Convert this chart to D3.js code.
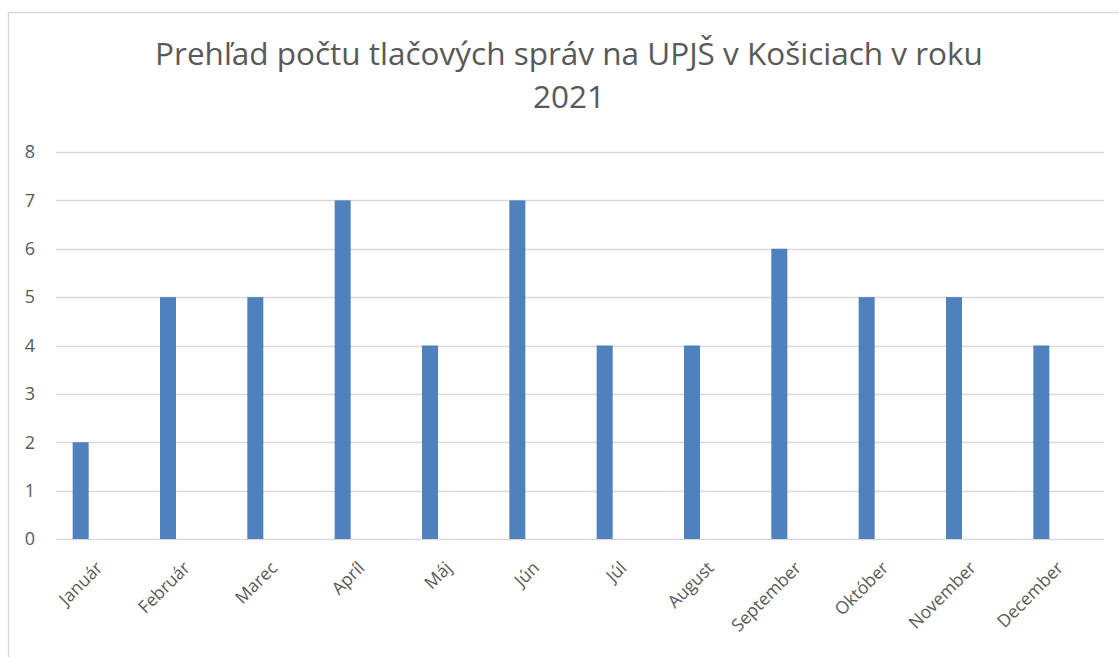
<!DOCTYPE html>
<html>
<head>
<meta charset="utf-8">
<script src="https://cdn.jsdelivr.net/npm/d3@7"></script>
<style>
  body { margin: 0; background: #fff; }
  svg text { font-family: "Open Sans", "Noto Sans", sans-serif; fill: #595959; }
</style>
</head>
<body>
<div id="chart"></div>
<script>
// data
const months = ["Január", "Február", "Marec", "Apríl", "Máj", "Jún", "Júl", "August", "September", "Október", "November", "December"];
const counts = [2, 5, 5, 7, 4, 7, 4, 4, 6, 5, 5, 4];
const yTicks = [0, 1, 2, 3, 4, 5, 6, 7, 8];
const titleLines = ["Prehľad počtu tlačových správ na UPJŠ v Košiciach v roku", "2021"];

const width = 1119, height = 657;
const margin = {top: 152, right: 15, bottom: 118, left: 56};
const barWidth = 16;
const barShift = -27;   // bar sits left of the category centre

const svg = d3.select("#chart").append("svg")
    .attr("width", width)
    .attr("height", height);

// chart border (only top and left visible in the crop)
svg.append("path")
    .attr("d", `M8.5,${height} V12.5 H${width}`)
    .attr("fill", "none")
    .attr("stroke", "#d9d9d9")
    .attr("stroke-width", 1.5);

// title
svg.append("text")
    .attr("x", 569)
    .attr("y", 65)
    .attr("text-anchor", "middle")
    .attr("font-size", "31.5px")
    .selectAll("tspan")
    .data(titleLines)
    .enter()
    .append("tspan")
    .attr("x", 569)
    .attr("dy", (d, i) => i === 0 ? 0 : 43)
    .text(d => d);

const x = d3.scaleBand()
    .domain(months)
    .range([margin.left, width - margin.right])
    .padding(0);

const y = d3.scaleLinear()
    .domain([0, 8])
    .range([height - margin.bottom, margin.top]);

// gridlines
svg.append("g")
    .selectAll("line")
    .data(yTicks)
    .enter()
    .append("line")
    .attr("x1", margin.left)
    .attr("x2", width - margin.right)
    .attr("y1", d => Math.round(y(d)) + 0.5)
    .attr("y2", d => Math.round(y(d)) + 0.5)
    .attr("stroke", "#d9d9d9")
    .attr("stroke-width", 1.5);

// y labels
svg.append("g")
    .selectAll("text")
    .data(yTicks)
    .enter()
    .append("text")
    .attr("x", 30)
    .attr("y", d => y(d))
    .attr("dy", "0.35em")
    .attr("text-anchor", "middle")
    .attr("font-size", "18px")
    .text(d => d);

// bars
svg.append("g")
    .selectAll("rect")
    .data(months)
    .enter()
    .append("rect")
    .attr("x", d => x(d) + x.bandwidth() / 2 + barShift)
    .attr("y", (d, i) => y(counts[i]))
    .attr("width", barWidth)
    .attr("height", (d, i) => y(0) - y(counts[i]))
    .attr("fill", "#4f81bd");

// x labels, rotated
svg.append("g")
    .selectAll("text")
    .data(months)
    .enter()
    .append("text")
    .attr("transform", d => `translate(${x(d) + x.bandwidth() / 2 + 4},${y(0) + 30}) rotate(-45)`)
    .attr("text-anchor", "end")
    .attr("font-size", "17.5px")
    .text(d => d);
</script>
</body>
</html>
